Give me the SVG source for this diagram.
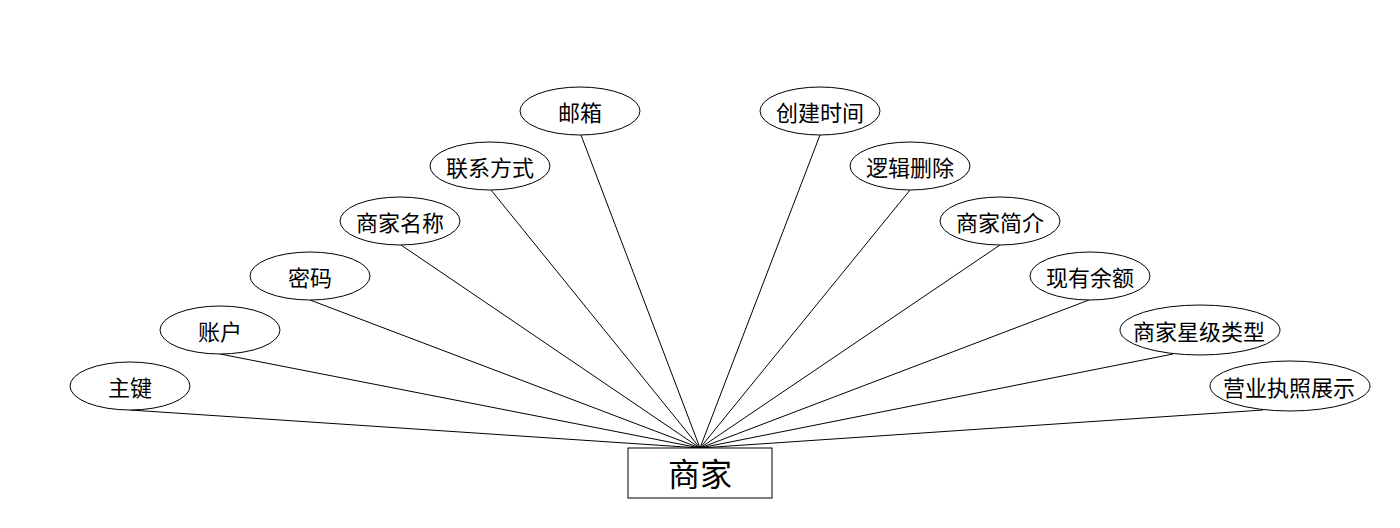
<svg xmlns="http://www.w3.org/2000/svg" width="1400" height="528" viewBox="0 0 1400 528">
<style>
.e{fill:#fff;stroke:#000;stroke-width:1}
.t{font-family:"Noto Sans CJK SC","Liberation Sans",sans-serif;font-size:22px;fill:#000;text-anchor:middle;dominant-baseline:central}
.c line{stroke:#000;stroke-width:1}
</style>
<rect width="1400" height="528" fill="#fff"/>
<g class="c" id="connectors">
<line x1="130" y1="410" x2="700" y2="448"/>
<line x1="220" y1="354" x2="700" y2="448"/>
<line x1="310" y1="300" x2="700" y2="448"/>
<line x1="401" y1="245" x2="700" y2="448"/>
<line x1="491" y1="190" x2="700" y2="448"/>
<line x1="581" y1="135" x2="700" y2="448"/>
<line x1="820" y1="135" x2="700" y2="448"/>
<line x1="910" y1="190" x2="700" y2="448"/>
<line x1="1000" y1="245" x2="700" y2="448"/>
<line x1="1089" y1="300" x2="700" y2="448"/>
<line x1="1173" y1="354" x2="700" y2="448"/>
<line x1="1263" y1="410" x2="700" y2="448"/>
</g>
<g id="n-main"><rect x="628" y="448" width="144" height="50" fill="#fff" stroke="#000"/><text class="t" x="700" y="472" style="font-size:32px">商家</text></g>
<g id="n1"><ellipse class="e" cx="130" cy="386" rx="60" ry="24"/><text class="t" x="130" y="386">主键</text></g>
<g id="n2"><ellipse class="e" cx="220" cy="330" rx="60" ry="24"/><text class="t" x="220" y="330">账户</text></g>
<g id="n3"><ellipse class="e" cx="310" cy="276" rx="60" ry="24"/><text class="t" x="310" y="276">密码</text></g>
<g id="n4"><ellipse class="e" cx="400" cy="221" rx="60" ry="24"/><text class="t" x="400" y="221">商家名称</text></g>
<g id="n5"><ellipse class="e" cx="490" cy="166" rx="60" ry="24"/><text class="t" x="490" y="166">联系方式</text></g>
<g id="n6"><ellipse class="e" cx="580" cy="111" rx="60" ry="24"/><text class="t" x="580" y="111">邮箱</text></g>
<g id="n7"><ellipse class="e" cx="820" cy="111" rx="60" ry="24"/><text class="t" x="820" y="111">创建时间</text></g>
<g id="n8"><ellipse class="e" cx="910" cy="166" rx="60" ry="24"/><text class="t" x="910" y="166">逻辑删除</text></g>
<g id="n9"><ellipse class="e" cx="1000" cy="221" rx="60" ry="24"/><text class="t" x="1000" y="221">商家简介</text></g>
<g id="n10"><ellipse class="e" cx="1090" cy="276" rx="60" ry="24"/><text class="t" x="1090" y="276">现有余额</text></g>
<g id="n11"><ellipse class="e" cx="1200" cy="330" rx="80" ry="25"/><text class="t" x="1199" y="330">商家星级类型</text></g>
<g id="n12"><ellipse class="e" cx="1290" cy="386" rx="80" ry="25"/><text class="t" x="1289" y="386">营业执照展示</text></g>
</svg>
